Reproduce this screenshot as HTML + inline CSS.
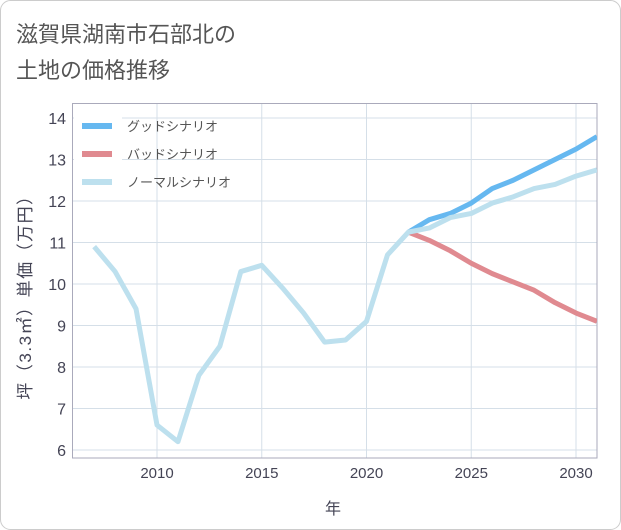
<!DOCTYPE html>
<html><head><meta charset="utf-8"><style>
html,body{margin:0;padding:0;background:#fff;}
svg{display:block;font-family:"Liberation Sans","Noto Sans CJK JP",sans-serif;}
</style></head><body>
<svg width="621" height="530" viewBox="0 0 621 530">
<rect x="0.5" y="0.5" width="620" height="529" rx="10" fill="#fff" stroke="#ccc"/>
<text x="16" y="42" font-size="22" fill="#555">滋賀県湖南市石部北の</text>
<text x="16" y="78" font-size="22" fill="#555">土地の価格推移</text>
<g id="grid"></g>
<g id="ticks"></g>
<rect x="72.5" y="103.5" width="524.5" height="354.5" fill="none" stroke="#aab"/>
<g id="series"></g>
<rect x="74" y="105" width="48" height="95" fill="#fff"/>
<g>
<line x1="82" y1="126" x2="112" y2="126" stroke="#66b8f0" stroke-width="6"/>
<text x="127" y="131" font-size="13" fill="#555">グッドシナリオ</text>
<line x1="82" y1="154" x2="112" y2="154" stroke="#e08a90" stroke-width="6"/>
<text x="127" y="159" font-size="13" fill="#555">バッドシナリオ</text>
<line x1="82" y1="182" x2="112" y2="182" stroke="#bde0ee" stroke-width="6"/>
<text x="127" y="187" font-size="13" fill="#555">ノーマルシナリオ</text>
</g>
<text x="333" y="514" font-size="16" fill="#445" text-anchor="middle">年</text>
<text transform="translate(31,293) rotate(-90)" font-size="17" letter-spacing="1.5" fill="#445" text-anchor="middle">坪（3.3㎡）単価（万円）</text>
</svg>
<script>
const normalYears=[2007,2008,2009,2010,2011,2012,2013,2014,2015,2016,2017,2018,2019,2020,2021,2022,2023,2024,2025,2026,2027,2028,2029,2030,2031];
const normalValues=[10.9,10.3,9.4,6.6,6.2,7.8,8.5,10.3,10.45,9.9,9.3,8.6,8.65,9.1,10.7,11.25,11.35,11.6,11.7,11.95,12.1,12.3,12.4,12.6,12.75];
const forecastYears=[2022,2023,2024,2025,2026,2027,2028,2029,2030,2031];
const goodValues=[11.25,11.55,11.7,11.95,12.3,12.5,12.75,13.0,13.25,13.55];
const badValues=[11.25,11.05,10.8,10.5,10.25,10.05,9.85,9.55,9.3,9.1];
const xTicks=[2010,2015,2020,2025,2030];
const yTicks=[6,7,8,9,10,11,12,13,14];
const NS='http://www.w3.org/2000/svg';
function xs(v){return 157+(v-2010)*20.95;}
function ys(v){return 450-(v-6)*41.5;}
const grid=document.getElementById('grid'),ticks=document.getElementById('ticks'),series=document.getElementById('series');
xTicks.forEach(t=>{
 const l=document.createElementNS(NS,'line');
 l.setAttribute('x1',xs(t));l.setAttribute('x2',xs(t));l.setAttribute('y1',103);l.setAttribute('y2',458);
 l.setAttribute('stroke','#d5dfe8');
 
 
 grid.appendChild(l);
 const tx=document.createElementNS(NS,'text');
 tx.setAttribute('x',xs(t));tx.setAttribute('y',478);tx.setAttribute('font-size','15');tx.setAttribute('fill','#445');tx.setAttribute('text-anchor','middle');
 tx.textContent=t;
 
 
 ticks.appendChild(tx);
});
yTicks.forEach(t=>{
 const l=document.createElementNS(NS,'line');
 l.setAttribute('x1',72);l.setAttribute('x2',597);l.setAttribute('y1',ys(t));l.setAttribute('y2',ys(t));
 l.setAttribute('stroke','#d5dfe8');
 
 
 grid.appendChild(l);
 const tx=document.createElementNS(NS,'text');
 tx.setAttribute('x',66);tx.setAttribute('y',ys(t)+6);tx.setAttribute('font-size','16');tx.setAttribute('fill','#445');tx.setAttribute('text-anchor','end');
 tx.textContent=t;
 
 
 ticks.appendChild(tx);
});
function line(xv,yv,color,name){
 const p=document.createElementNS(NS,'polyline');
 p.setAttribute('points',xv.map((x,i)=>xs(x)+','+ys(yv[i])).join(' '));
 p.setAttribute('fill','none');p.setAttribute('stroke',color);p.setAttribute('stroke-width','5');p.setAttribute('stroke-linejoin','round');
 
 
 series.appendChild(p);
}
const clip=document.createElementNS(NS,'clipPath');clip.setAttribute('id','pc');
const cr=document.createElementNS(NS,'rect');cr.setAttribute('x',72);cr.setAttribute('y',103);cr.setAttribute('width',525);cr.setAttribute('height',355);
clip.appendChild(cr);document.querySelector('svg').appendChild(clip);
series.setAttribute('clip-path','url(#pc)');
line(forecastYears,badValues,'#e08a90','bad-scenario-line');
line(forecastYears,goodValues,'#66b8f0','good-scenario-line');
line(normalYears,normalValues,'#bde0ee','normal-scenario-line');
</script>
</body></html>
